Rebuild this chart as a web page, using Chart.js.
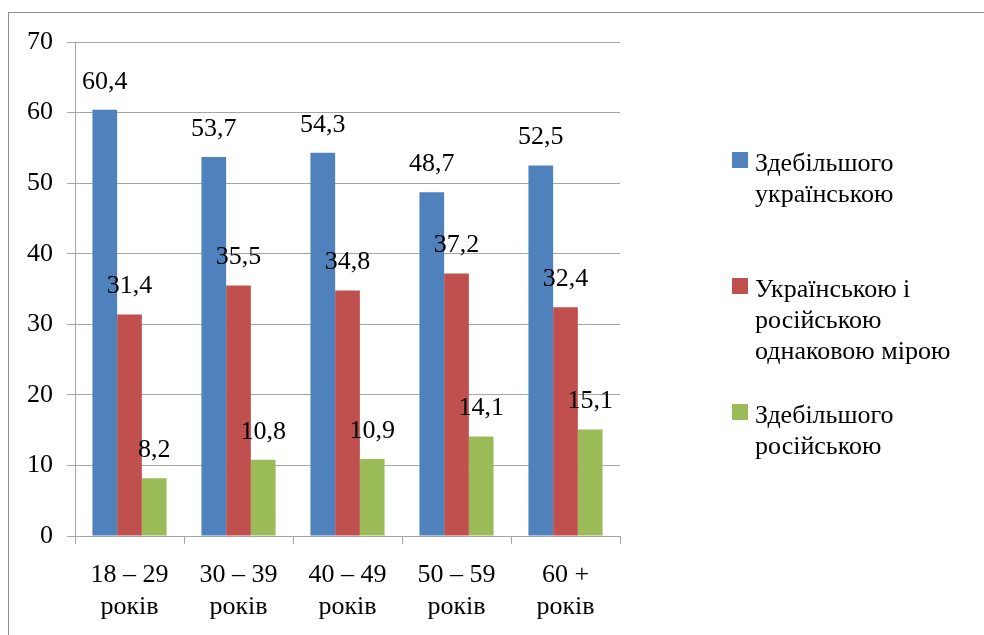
<!DOCTYPE html>
<html>
<head>
<meta charset="utf-8">
<script src="https://cdn.jsdelivr.net/npm/chart.js@4.4.0/dist/chart.umd.min.js"></script>
<style>
  body { margin: 0; background: #fff; overflow: hidden; }
  #frame { position: absolute; left: 8px; top: 12px; width: 1000px; height: 700px; border: 1px solid #8c8c8c; }
  #chart { position: absolute; left: 0; top: 0; }
  .item { position: absolute; left: 732px; font: 26px/31px "Liberation Serif", "Times New Roman", Tinos, "DejaVu Serif", serif; color: #000; white-space: nowrap; }
  .item .box { position: absolute; left: 0; top: 5px; width: 16px; height: 16px; }
  .item .txt { margin-left: 23px; }
</style>
</head>
<body>
<div id="frame"></div>
<canvas id="chart" width="984" height="635"></canvas>
<div id="legend"></div>
<script>
// Data
const categories = [["18 – 29", "років"], ["30 – 39", "років"], ["40 – 49", "років"], ["50 – 59", "років"], ["60 +", "років"]];
const seriesNames = [
  ["Здебільшого", "українською"],
  ["Українською і", "російською", "однаковою мірою"],
  ["Здебільшого", "російською"]
];
const mostlyUkrainian = [60.4, 53.7, 54.3, 48.7, 52.5];
const bothEqually = [31.4, 35.5, 34.8, 37.2, 32.4];
const mostlyRussian = [8.2, 10.8, 10.9, 14.1, 15.1];
const yTicks = [0, 10, 20, 30, 40, 50, 60, 70];

const colors = ["#4f81bd", "#c0504d", "#9bbb59"];
const legendTops = [147, 273, 399];
const family = '"Liberation Serif", "Times New Roman", Tinos, "DejaVu Serif", serif';
const font = { family: family, size: 26 };
const gridColor = "#a6a6a6";

// Legend (HTML)
const legend = document.getElementById("legend");
seriesNames.forEach((lines, i) => {
  const d = document.createElement("div");
  d.className = "item";
  d.style.top = legendTops[i] + "px";
  d.innerHTML = '<span class="box" style="background:' + colors[i] + '"></span><div class="txt">' + lines.join("<br>") + "</div>";
  legend.appendChild(d);
});

// Value labels above each bar
const valueLabels = {
  id: "valueLabels",
  afterDatasetsDraw(chart) {
    const ctx = chart.ctx;
    ctx.save();
    ctx.font = "26px " + family;
    ctx.fillStyle = "#000";
    ctx.textAlign = "center";
    ctx.textBaseline = "middle";
    chart.data.datasets.forEach((ds, i) => {
      chart.getDatasetMeta(i).data.forEach((bar, j) => {
        ctx.fillText(String(ds.data[j]).replace(".", ","), bar.x, bar.y - 28);
      });
    });
    ctx.restore();
  }
};

const datasets = [mostlyUkrainian, bothEqually, mostlyRussian].map((data, i) => ({
  label: seriesNames[i].join(" "),
  data: data,
  backgroundColor: colors[i],
  categoryPercentage: 0.68,
  barPercentage: 1.0
}));

new Chart(document.getElementById("chart").getContext("2d"), {
  type: "bar",
  data: { labels: categories, datasets: datasets },
  options: {
    responsive: false,
    animation: false,
    layout: { padding: { left: 0, top: 42, right: 364, bottom: 0 } },
    plugins: { legend: { display: false }, tooltip: { enabled: false } },
    scales: {
      x: {
        grid: { drawOnChartArea: false, tickLength: 8, color: gridColor },
        border: { color: gridColor },
        ticks: { font: font, color: "#000", padding: 16, maxRotation: 0, autoSkip: false },
        afterFit(s) { s.height = 99; }
      },
      y: {
        min: yTicks[0],
        max: yTicks[yTicks.length - 1],
        afterBuildTicks(s) { s.ticks = yTicks.map(v => ({ value: v })); },
        grid: { tickLength: 8, color: gridColor },
        border: { color: gridColor },
        ticks: { font: font, color: "#000", padding: 14 },
        afterFit(s) { s.width = 75; }
      }
    }
  },
  plugins: [valueLabels]
});
</script>
</body>
</html>
